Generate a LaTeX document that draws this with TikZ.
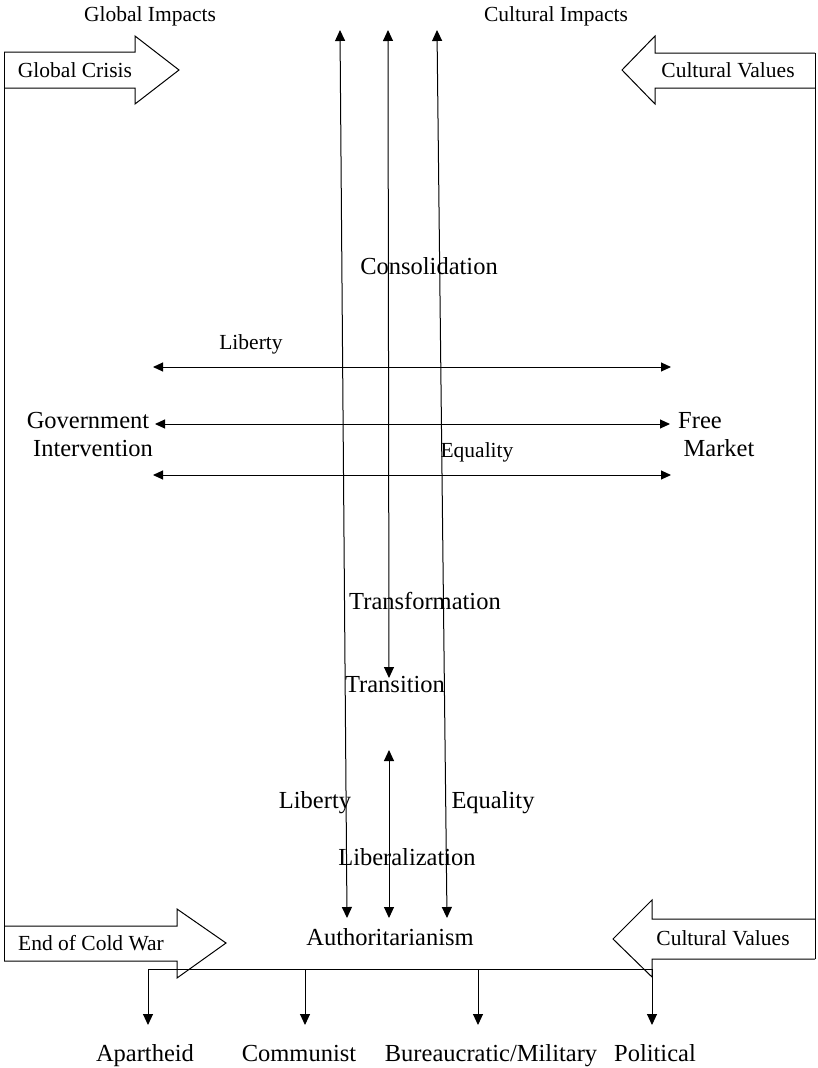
\documentclass[tikz,border=0pt]{standalone}
\usepackage{fontspec}
\setmainfont{Liberation Serif}
\usetikzlibrary{arrows.meta}
\begin{document}
\begin{tikzpicture}[x=1pt,y=-1pt,
  ln/.style={line width=1pt},
  tipend/.style={-{Triangle[length=11pt,width=10pt]}},
  dtip/.style={{Triangle[length=11pt,width=10pt]}-{Triangle[length=11pt,width=10pt]}},
  htip/.style={{Triangle[length=10pt,width=9pt]}-{Triangle[length=10pt,width=9pt]}},
  big/.style={font=\fontsize{24.5}{28}\selectfont, inner sep=0pt, anchor=base},
  small/.style={font=\fontsize{21.5}{25}\selectfont, inner sep=0pt, anchor=base}]
\useasboundingbox (0,0) rectangle (817,1068);

% block arrows and frame
\draw[ln] (4,52) -- (135,52) -- (135,36) -- (179,70) -- (135,104) -- (135,88) -- (4,88);
\draw[ln] (815,53) -- (655,53) -- (655,36) -- (622,70) -- (655,104) -- (655,88) -- (815,88);
\draw[ln] (4,926) -- (177,926) -- (177,909) -- (226,943) -- (177,978) -- (177,961) -- (4,961);
\draw[ln] (815,919) -- (652,919) -- (652,900) -- (613,939) -- (652,977) -- (652,959) -- (815,959);
\draw[ln] (4,52) -- (4,961);
\draw[ln] (815,53) -- (815,959);

% coordinates
\coordinate (LT) at (340,30);  \coordinate (LB) at (347,918);
\coordinate (MT) at (388,30);  \coordinate (MTr) at (389,678);
\coordinate (MU) at (389,750); \coordinate (MB) at (389,918);
\coordinate (RT) at (437,30);  \coordinate (RB) at (447,918);
\coordinate (h1l) at (153,367); \coordinate (h1r) at (671,367);
\coordinate (h2l) at (155,424); \coordinate (h2r) at (670,424);
\coordinate (h3l) at (153,475); \coordinate (h3r) at (671,475);
\coordinate (bl) at (148,969); \coordinate (br) at (652,969);
\coordinate (b2) at (305,969); \coordinate (b3) at (478,969);
\coordinate (a1) at (148,1025); \coordinate (a2) at (305,1025);
\coordinate (a3) at (478,1025); \coordinate (a4) at (652,1025);

% vertical arrows
\draw[ln,dtip] (LB) -- (LT);
\draw[ln,dtip] (MTr) -- (MT);
\draw[ln,dtip] (MB) -- (MU);
\draw[ln,dtip] (RB) -- (RT);

% horizontal arrows
\draw[ln,htip] (h1l) -- (h1r);
\draw[ln,htip] (h2l) -- (h2r);
\draw[ln,htip] (h3l) -- (h3r);

% bottom distribution
\draw[ln] (bl) -- (br);
\draw[ln,tipend] (bl) -- (a1);
\draw[ln,tipend] (b2) -- (a2);
\draw[ln,tipend] (b3) -- (a3);
\draw[ln,tipend] (br) -- (a4);

% texts
\node[small] (gi) at (150,21) {Global Impacts};
\node[small] (ci) at (556,21) {Cultural Impacts};
\node[small] (gc) at (75,77) {Global Crisis};
\node[small] (cv1) at (728,77) {Cultural Values};
\node[big] (cons) at (429,274) {Consolidation};
\node[small] (lib1) at (251,349) {Liberty};
\node[big] (gov1) at (88,428) {Government};
\node[big] (gov2) at (93,456) {Intervention};
\node[big] (free) at (700,428) {Free};
\node[big] (mkt) at (719,456) {Market};
\node[small] (eq1) at (477,457) {Equality};
\node[big] (transf) at (425,609) {Transformation};
\node[big] (trans) at (395,692) {Transition};
\node[big] (lib2) at (315,808) {Liberty};
\node[big] (eq2) at (493,808) {Equality};
\node[big] (liber) at (407,865) {Liberalization};
\node[big] (auth) at (390,945) {Authoritarianism};
\node[small] (ecw) at (91,950) {End of Cold War};
\node[small] (cv2) at (723,945) {Cultural Values};
\node[big] (apa) at (145,1061) {Apartheid};
\node[big] (com) at (299,1061) {Communist};
\node[big] (bur) at (491,1061) {Bureaucratic/Military};
\node[big] (pol) at (655,1061) {Political};
\end{tikzpicture}
\end{document}
